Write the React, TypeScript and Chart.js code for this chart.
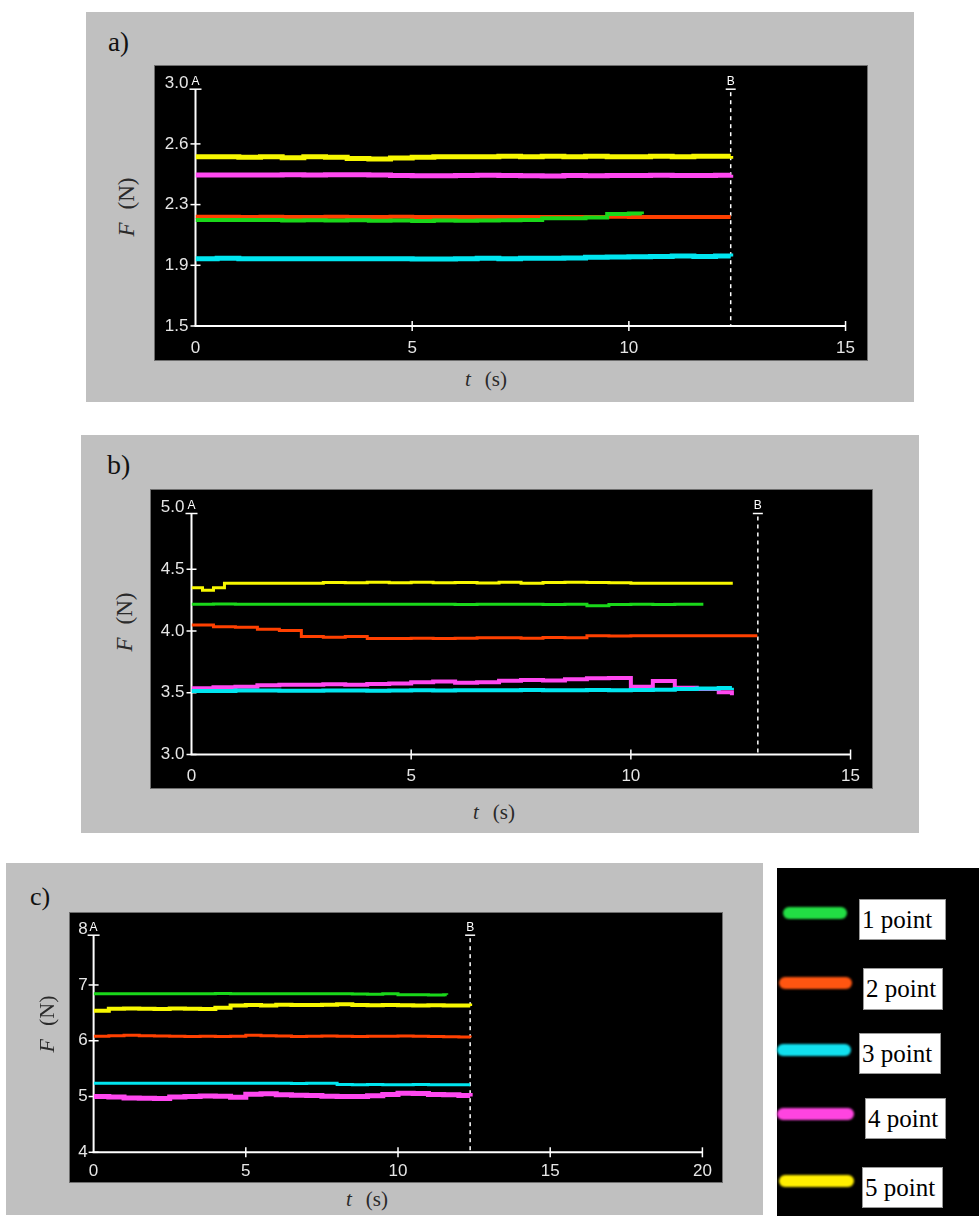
import React, { useEffect, useRef } from 'react';
import { Chart, registerables } from 'chart.js';

Chart.register(...registerables);

// ---------- series names / colours ----------
const SERIES_NAMES = ['1 point', '2 point', '3 point', '4 point', '5 point'];
const LINE_COLORS = ['#1ad81a', '#ff4000', '#00e6f0', '#ff48f0', '#f8f800'];
const LEGEND_COLORS = ['#22dd44', '#ff5511', '#11e0ee', '#ff44e0', '#ffee00'];

// ---------- panel a ----------
const A_T = [0, 0.5, 1, 1.5, 2, 2.5, 3, 3.5, 4, 4.5, 5, 5.5, 6, 6.5, 7, 7.5, 8, 8.5, 9, 9.5, 10, 10.5, 11, 11.5, 12, 12.35];
const A_T_GREEN = [0, 0.5, 1, 1.5, 2, 2.5, 3, 3.5, 4, 4.5, 5, 5.5, 6, 6.5, 7, 7.5, 8, 8.5, 9, 9.5, 10, 10.3];
const A_GREEN = [2.155, 2.155, 2.155, 2.155, 2.152, 2.153, 2.152, 2.153, 2.15, 2.152, 2.148, 2.152, 2.15, 2.152, 2.153, 2.155, 2.165, 2.165, 2.17, 2.192, 2.195, 2.19];
const A_RED = [2.175, 2.175, 2.173, 2.175, 2.173, 2.173, 2.175, 2.173, 2.173, 2.175, 2.173, 2.173, 2.173, 2.173, 2.173, 2.173, 2.173, 2.173, 2.173, 2.175, 2.173, 2.173, 2.173, 2.173, 2.173, 2.173];
const A_CYAN = [1.916, 1.918, 1.916, 1.916, 1.915, 1.916, 1.916, 1.916, 1.916, 1.915, 1.914, 1.914, 1.915, 1.918, 1.916, 1.918, 1.918, 1.92, 1.924, 1.926, 1.928, 1.93, 1.932, 1.93, 1.932, 1.93];
const A_MAGENTA = [2.433, 2.433, 2.433, 2.433, 2.435, 2.433, 2.435, 2.435, 2.433, 2.43, 2.428, 2.428, 2.43, 2.432, 2.43, 2.428, 2.426, 2.43, 2.428, 2.43, 2.43, 2.432, 2.43, 2.43, 2.432, 2.435];
const A_YELLOW = [2.545, 2.545, 2.542, 2.545, 2.54, 2.545, 2.542, 2.535, 2.532, 2.538, 2.542, 2.545, 2.545, 2.545, 2.548, 2.545, 2.548, 2.545, 2.548, 2.545, 2.545, 2.548, 2.545, 2.548, 2.548, 2.55];
const A_Y_TICKS = [1.5, 1.875, 2.25, 2.625, 3.0];
const A_Y_LABELS = ['1.5', '1.9', '2.3', '2.6', '3.0'];
const A_CURSOR_B = 12.35;

// ---------- panel b ----------
const B_T = [0, 0.5, 1, 1.5, 2, 2.5, 3, 3.5, 4, 4.5, 5, 5.5, 6, 6.5, 7, 7.5, 8, 8.5, 9, 9.5, 10, 10.5, 11, 11.5, 12, 12.3];
const B_T_GREEN = [0, 0.5, 1, 1.5, 2, 2.5, 3, 3.5, 4, 4.5, 5, 5.5, 6, 6.5, 7, 7.5, 8, 8.5, 9, 9.5, 10, 10.5, 11, 11.5, 11.65];
const B_T_ORANGE = [0, 0.5, 1, 1.5, 2, 2.5, 3, 3.5, 4, 4.5, 5, 5.5, 6, 6.5, 7, 7.5, 8, 8.5, 9, 9.5, 10, 10.5, 11, 11.5, 12, 12.5, 12.88];
const B_T_YELLOW = [0, 0.25, 0.5, 0.75, 1, 1.5, 2, 2.5, 3, 3.5, 4, 4.5, 5, 5.5, 6, 6.5, 7, 7.5, 8, 8.5, 9, 9.5, 10, 10.5, 11, 11.5, 12, 12.32];
const B_GREEN = [4.216, 4.218, 4.216, 4.216, 4.216, 4.216, 4.216, 4.216, 4.216, 4.216, 4.216, 4.216, 4.214, 4.216, 4.216, 4.216, 4.214, 4.216, 4.205, 4.214, 4.216, 4.214, 4.216, 4.216, 4.216];
const B_ORANGE = [4.049, 4.035, 4.03, 4.015, 4.005, 3.955, 3.95, 3.955, 3.94, 3.94, 3.942, 3.94, 3.942, 3.945, 3.945, 3.942, 3.948, 3.945, 3.962, 3.96, 3.962, 3.962, 3.962, 3.962, 3.962, 3.962, 3.962];
const B_CYAN = [3.515, 3.515, 3.518, 3.518, 3.517, 3.517, 3.518, 3.518, 3.517, 3.518, 3.52, 3.518, 3.52, 3.52, 3.52, 3.522, 3.52, 3.52, 3.522, 3.52, 3.522, 3.525, 3.53, 3.535, 3.538, 3.54];
const B_MAGENTA = [3.536, 3.545, 3.548, 3.56, 3.565, 3.565, 3.568, 3.565, 3.57, 3.575, 3.585, 3.592, 3.58, 3.585, 3.598, 3.603, 3.6, 3.61, 3.617, 3.62, 3.549, 3.595, 3.54, 3.53, 3.505, 3.48];
const B_YELLOW = [4.35, 4.33, 4.35, 4.386, 4.386, 4.386, 4.386, 4.386, 4.392, 4.39, 4.395, 4.39, 4.395, 4.39, 4.392, 4.388, 4.395, 4.386, 4.392, 4.395, 4.392, 4.39, 4.386, 4.386, 4.386, 4.386, 4.386, 4.386];
const B_Y_TICKS = [3, 3.5, 4, 4.5, 5];
const B_Y_LABELS = ['3.0', '3.5', '4.0', '4.5', '5.0'];
const B_CURSOR_B = 12.89;

// ---------- panel c ----------
const C_T = [0, 0.5, 1, 1.5, 2, 2.5, 3, 3.5, 4, 4.5, 5, 5.5, 6, 6.5, 7, 7.5, 8, 8.5, 9, 9.5, 10, 10.5, 11, 11.5, 12, 12.37];
const C_T_GREEN = [0, 0.5, 1, 1.5, 2, 2.5, 3, 3.5, 4, 4.5, 5, 5.5, 6, 6.5, 7, 7.5, 8, 8.5, 9, 9.5, 10, 10.5, 11, 11.5, 11.6];
const C_GREEN = [6.842, 6.842, 6.842, 6.842, 6.842, 6.842, 6.842, 6.842, 6.845, 6.842, 6.842, 6.842, 6.842, 6.842, 6.842, 6.842, 6.842, 6.84, 6.835, 6.842, 6.824, 6.826, 6.822, 6.826, 6.824];
const C_ORANGE = [6.08, 6.09, 6.1, 6.09, 6.085, 6.08, 6.075, 6.08, 6.075, 6.08, 6.1, 6.09, 6.085, 6.075, 6.08, 6.085, 6.08, 6.075, 6.08, 6.08, 6.085, 6.08, 6.075, 6.07, 6.065, 6.06];
const C_CYAN = [5.236, 5.236, 5.236, 5.236, 5.236, 5.236, 5.236, 5.236, 5.236, 5.236, 5.236, 5.236, 5.236, 5.232, 5.236, 5.236, 5.215, 5.213, 5.215, 5.213, 5.213, 5.215, 5.213, 5.213, 5.213, 5.213];
const C_MAGENTA = [5.0, 4.99, 4.975, 4.97, 4.965, 4.99, 5.0, 5.01, 5.005, 4.985, 5.04, 5.05, 5.03, 5.025, 5.02, 5.005, 5.0, 5.0, 5.015, 5.035, 5.06, 5.055, 5.035, 5.03, 5.02, 5.0];
const C_YELLOW = [6.54, 6.575, 6.58, 6.575, 6.57, 6.58, 6.575, 6.57, 6.59, 6.63, 6.64, 6.63, 6.645, 6.64, 6.64, 6.645, 6.655, 6.64, 6.635, 6.64, 6.635, 6.63, 6.635, 6.63, 6.63, 6.625];
const C_Y_TICKS = [4, 5, 6, 7, 8];
const C_Y_LABELS = ['4', '5', '6', '7', '8'];
const C_CURSOR_B = 12.37;

const X_TICKS_15 = [0, 5, 10, 15];
const X_TICKS_20 = [0, 5, 10, 15, 20];

// ---------- axes / cursor plugin ----------
const scopeAxes = {
  id: 'scopeAxes',
  beforeDatasetsDraw(chart: any, _args: any, opts: any) {
    const { ctx } = chart;
    const x = chart.scales.x;
    const y = chart.scales.y;
    const x0 = x.getPixelForValue(x.min);
    const xEnd = x.getPixelForValue(x.max);
    const y0 = y.getPixelForValue(y.min);
    const yTop = y.getPixelForValue(y.max) + 6;
    const line = (a: number, b: number, c: number, d: number) => {
      ctx.beginPath();
      ctx.moveTo(a, b);
      ctx.lineTo(c, d);
      ctx.stroke();
    };
    ctx.save();
    ctx.strokeStyle = '#ffffff';
    ctx.lineWidth = 2;
    line(x0, y0, x0, yTop);
    line(x0 - 1, y0, xEnd, y0);
    ctx.lineWidth = 1.5;
    y.ticks.forEach((t: any) => {
      if (t.value >= y.max) return;
      const py = y.getPixelForValue(t.value);
      line(x0 - 5, py, x0 + 5, py);
    });
    x.ticks.forEach((t: any) => {
      if (t.value <= x.min) return;
      const px = x.getPixelForValue(t.value);
      line(px, y0 - 5, px, y0 + 5);
    });
    line(x0 - 6, yTop, x0 + 6, yTop);
    const xb = x.getPixelForValue(opts.cursorB);
    ctx.lineWidth = 1.5;
    ctx.setLineDash([4, 4]);
    line(xb, yTop + 3, xb, y0);
    ctx.setLineDash([]);
    line(xb - 5, yTop, xb + 5, yTop);
    ctx.fillStyle = '#ffffff';
    ctx.font = '12px "Liberation Sans", Arial, sans-serif';
    ctx.textAlign = 'center';
    ctx.textBaseline = 'bottom';
    ctx.fillText('A', x0, yTop - 2);
    ctx.fillText('B', xb, yTop - 2);
    ctx.restore();
  },
};

type Series = { t: number[]; v: number[]; color: string; width: number };
type PanelProps = {
  box: { left: number; top: number; width: number; height: number };
  area: { l: number; r: number; t: number; b: number };
  xMax: number;
  yMin: number;
  yMax: number;
  xTicks: number[];
  yTicks: number[];
  yLabels: string[];
  cursorB: number;
  series: Series[];
  yPad: number;
  xPad: number;
};

function ScopeChart(p: PanelProps) {
  const ref = useRef<HTMLCanvasElement>(null);
  useEffect(() => {
    const tickFont = { family: '"Liberation Sans", Arial, sans-serif', size: 17 };
    const chart = new Chart(ref.current as HTMLCanvasElement, {
      type: 'line',
      data: {
        datasets: p.series.map((s) => ({
          data: s.t.map((t, i) => ({ x: t, y: s.v[i] })),
          borderColor: s.color,
          backgroundColor: s.color,
          borderWidth: s.width,
          pointRadius: 0,
          stepped: true,
          fill: false,
        })),
      },
      options: {
        animation: false,
        responsive: false,
        devicePixelRatio: 1,
        layout: { padding: { left: 0, right: p.area.r, top: p.area.t, bottom: 0 } },
        plugins: {
          legend: { display: false },
          tooltip: { enabled: false },
          scopeAxes: { cursorB: p.cursorB },
        } as any,
        scales: {
          x: {
            type: 'linear',
            min: 0,
            max: p.xMax,
            grid: { display: false, drawTicks: false },
            border: { display: false },
            afterBuildTicks: (s: any) => {
              s.ticks = p.xTicks.map((v) => ({ value: v }));
            },
            afterFit: (s: any) => {
              s.height = p.area.b;
            },
            ticks: { color: '#e6e6e6', font: tickFont, padding: p.xPad, maxRotation: 0, autoSkip: false },
          },
          y: {
            type: 'linear',
            min: p.yMin,
            max: p.yMax,
            grid: { display: false, drawTicks: false },
            border: { display: false },
            afterBuildTicks: (s: any) => {
              s.ticks = p.yTicks.map((v) => ({ value: v }));
            },
            afterFit: (s: any) => {
              s.width = p.area.l;
            },
            ticks: {
              color: '#e6e6e6',
              font: tickFont,
              padding: p.yPad,
              autoSkip: false,
              callback: (_v: any, i: number) => p.yLabels[i],
            },
          },
        },
      } as any,
      plugins: [scopeAxes],
    });
    return () => chart.destroy();
  }, []);
  return (
    <canvas
      ref={ref}
      width={p.box.width}
      height={p.box.height}
      style={{
        position: 'absolute',
        left: p.box.left,
        top: p.box.top,
        width: p.box.width,
        height: p.box.height,
        background: '#000',
        outline: '1px solid #6e6e6e',
      }}
    />
  );
}

const abs = (left: number, top: number, extra: any = {}) => ({ position: 'absolute' as const, left, top, ...extra });

function YTitle({ cx, cy, size }: { cx: number; cy: number; size: number }) {
  return (
    <div
      style={abs(cx, cy, {
        transform: 'translate(-50%, -50%) rotate(-90deg)',
        whiteSpace: 'nowrap',
        fontSize: size,
        lineHeight: `${size}px`,
        color: '#2a2a2a',
      })}
    >
      <i>F</i>
      <span style={{ marginLeft: 13 }}>(N)</span>
    </div>
  );
}

function XTitle({ cx, cy }: { cx: number; cy: number }) {
  return (
    <div
      style={abs(cx, cy, {
        transform: 'translate(-50%, -50%)',
        whiteSpace: 'nowrap',
        fontSize: 21,
        lineHeight: '21px',
        color: '#2a2a2a',
      })}
    >
      <i>t</i>
      <span style={{ marginLeft: 14 }}>(s)</span>
    </div>
  );
}

const LEGEND_SWATCHES = [
  { x: 783, w: 64, y: 913 },
  { x: 779, w: 73, y: 983 },
  { x: 777, w: 74, y: 1050 },
  { x: 777, w: 77, y: 1114 },
  { x: 779, w: 75, y: 1181 },
];
const LEGEND_BOXES = [
  { x: 859, y: 899, w: 87, h: 41 },
  { x: 863, y: 968, w: 80, h: 42 },
  { x: 859, y: 1033, w: 82, h: 41 },
  { x: 865, y: 1098, w: 81, h: 41 },
  { x: 862, y: 1167, w: 81, h: 41 },
];

export default function App() {
  const panelA: PanelProps = {
    box: { left: 155, top: 66, width: 712, height: 294 },
    area: { l: 40.5, r: 18.5, t: 15.7, b: 34 },
    xMax: 15,
    yMin: 1.5,
    yMax: 3.0,
    xTicks: X_TICKS_15,
    yTicks: A_Y_TICKS,
    yLabels: A_Y_LABELS,
    cursorB: A_CURSOR_B,
    yPad: 7,
    xPad: 12,
    series: [
      { t: A_T_GREEN, v: A_GREEN, color: LINE_COLORS[0], width: 4 },
      { t: A_T, v: A_RED, color: LINE_COLORS[1], width: 4 },
      { t: A_T, v: A_CYAN, color: LINE_COLORS[2], width: 5 },
      { t: A_T, v: A_MAGENTA, color: LINE_COLORS[3], width: 5 },
      { t: A_T, v: A_YELLOW, color: LINE_COLORS[4], width: 5 },
    ],
  };
  const panelB: PanelProps = {
    box: { left: 151, top: 490, width: 721, height: 298 },
    area: { l: 40.5, r: 18, t: 17.5, b: 33.5 },
    xMax: 15,
    yMin: 3,
    yMax: 5,
    xTicks: X_TICKS_15,
    yTicks: B_Y_TICKS,
    yLabels: B_Y_LABELS,
    cursorB: B_CURSOR_B,
    yPad: 7,
    xPad: 12,
    series: [
      { t: B_T_YELLOW, v: B_YELLOW, color: LINE_COLORS[4], width: 3 },
      { t: B_T_GREEN, v: B_GREEN, color: LINE_COLORS[0], width: 3 },
      { t: B_T_ORANGE, v: B_ORANGE, color: LINE_COLORS[1], width: 3 },
      { t: B_T, v: B_CYAN, color: LINE_COLORS[2], width: 4 },
      { t: B_T, v: B_MAGENTA, color: LINE_COLORS[3], width: 4 },
    ],
  };
  const panelC: PanelProps = {
    box: { left: 70, top: 913, width: 652, height: 269 },
    area: { l: 23.6, r: 19.6, t: 14, b: 29.7 },
    xMax: 20,
    yMin: 4,
    yMax: 8,
    xTicks: X_TICKS_20,
    yTicks: C_Y_TICKS,
    yLabels: C_Y_LABELS,
    cursorB: C_CURSOR_B,
    yPad: 6,
    xPad: 9,
    series: [
      { t: C_T_GREEN, v: C_GREEN, color: LINE_COLORS[0], width: 3 },
      { t: C_T, v: C_YELLOW, color: LINE_COLORS[4], width: 4 },
      { t: C_T, v: C_ORANGE, color: LINE_COLORS[1], width: 3 },
      { t: C_T, v: C_CYAN, color: LINE_COLORS[2], width: 3 },
      { t: C_T, v: C_MAGENTA, color: LINE_COLORS[3], width: 5 },
    ],
  };

  return (
    <div
      style={{
        position: 'absolute',
        left: 0,
        top: 0,
        width: 979,
        height: 1216,
        background: '#ffffff',
        overflow: 'hidden',
        fontFamily: '"Liberation Serif", "Times New Roman", serif',
      }}
    >
      {/* gray panels */}
      <div style={abs(86, 12, { width: 828, height: 390, background: '#c0c0c0' })} />
      <div style={abs(81, 435, { width: 838, height: 398, background: '#c0c0c0' })} />
      <div style={abs(6, 863, { width: 757, height: 352, background: '#c0c0c0' })} />

      {/* panel letters */}
      <div style={abs(108, 29, { fontSize: 27, lineHeight: '27px', color: '#111' })}>a)</div>
      <div style={abs(107, 451, { fontSize: 28, lineHeight: '28px', color: '#111' })}>b)</div>
      <div style={abs(30, 884, { fontSize: 26, lineHeight: '26px', color: '#111' })}>c)</div>

      <ScopeChart {...panelA} />
      <ScopeChart {...panelB} />
      <ScopeChart {...panelC} />

      <YTitle cx={126} cy={207} size={23} />
      <YTitle cx={124} cy={622} size={23} />
      <YTitle cx={47} cy={1024} size={22} />
      <XTitle cx={486} cy={379} />
      <XTitle cx={494} cy={812} />
      <XTitle cx={367} cy={1199} />

      {/* legend */}
      <div style={abs(777, 868, { width: 202, height: 348, background: '#000' })} />
      {SERIES_NAMES.map((name, i) => (
        <React.Fragment key={name}>
          <div
            style={abs(LEGEND_SWATCHES[i].x, LEGEND_SWATCHES[i].y - 6, {
              width: LEGEND_SWATCHES[i].w,
              height: 12,
              borderRadius: 6,
              background: LEGEND_COLORS[i],
              filter: 'blur(1px)',
            })}
          />
          <div
            style={abs(LEGEND_BOXES[i].x, LEGEND_BOXES[i].y, {
              width: LEGEND_BOXES[i].w,
              height: LEGEND_BOXES[i].h,
              background: '#fff',
              border: '1px solid #999',
              boxSizing: 'border-box',
              display: 'flex',
              alignItems: 'center',
              paddingLeft: 2,
              fontSize: 25,
              color: '#000',
              whiteSpace: 'nowrap',
            })}
          >
            {name}
          </div>
        </React.Fragment>
      ))}
    </div>
  );
}
